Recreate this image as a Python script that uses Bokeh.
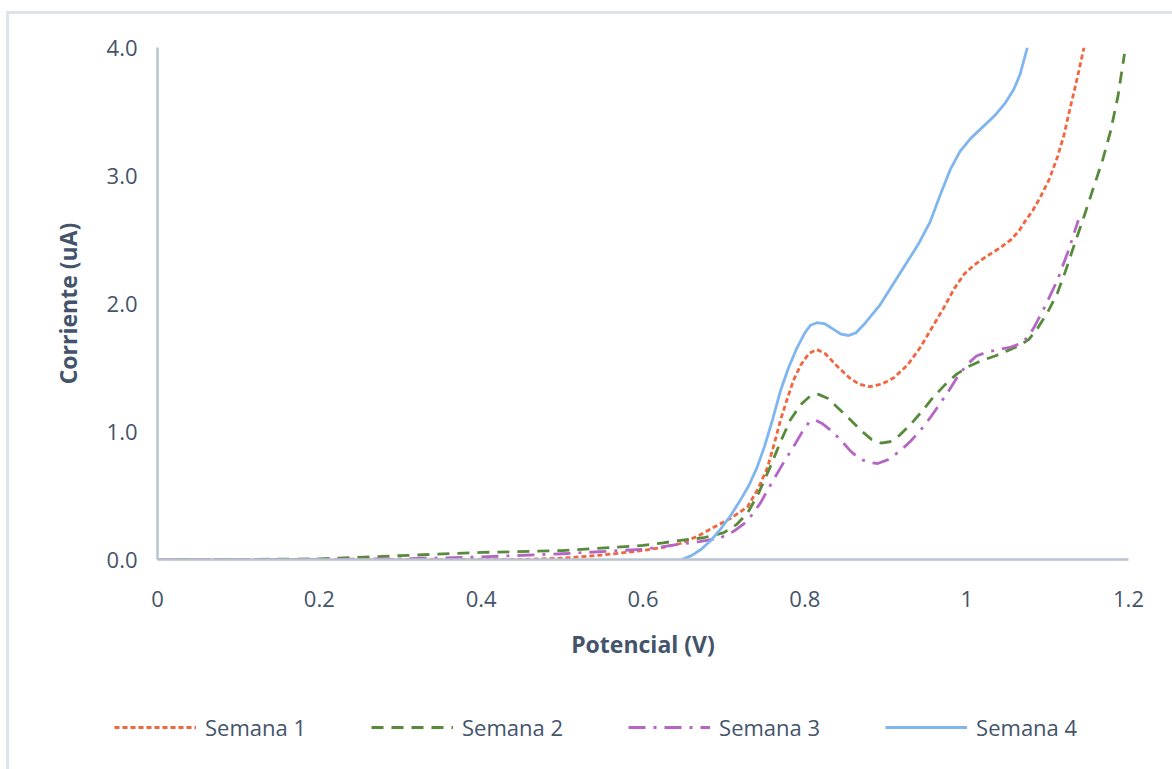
from bokeh.plotting import figure
from bokeh.models import Range1d, FixedTicker, Legend, LegendItem
from bokeh.embed import file_html
from bokeh.resources import INLINE

# Potential (V) and current (uA) for each weekly voltammogram
v_sem1 = [0, 0.1, 0.2, 0.3, 0.4, 0.45, 0.5, 0.55, 0.6, 0.625, 0.646, 0.667, 0.687, 0.708,
          0.729, 0.742, 0.754, 0.762, 0.77, 0.778, 0.786, 0.795, 0.805, 0.815, 0.825,
          0.84, 0.855, 0.867, 0.88, 0.895, 0.91, 0.927, 0.943, 0.958, 0.972, 0.985,
          0.997, 1.009, 1.025, 1.04, 1.055, 1.065, 1.072, 1.082, 1.091, 1.102, 1.112,
          1.12, 1.128, 1.137, 1.145]
i_sem1 = [0, 0, 0, 0, 0, 0, 0.01, 0.035, 0.07, 0.095, 0.125, 0.18, 0.25, 0.32,
          0.41, 0.55, 0.72, 0.90, 1.09, 1.25, 1.40, 1.52, 1.61, 1.64, 1.61,
          1.51, 1.42, 1.37, 1.35, 1.37, 1.42, 1.52, 1.66, 1.82, 1.97, 2.12,
          2.23, 2.30, 2.37, 2.43, 2.50, 2.57, 2.64, 2.73, 2.83, 2.97, 3.14,
          3.31, 3.53, 3.77, 4.0]

v_sem2 = [0, 0.1, 0.2, 0.3, 0.4, 0.5, 0.6, 0.625, 0.646, 0.675, 0.70, 0.715, 0.729,
          0.743, 0.757, 0.77, 0.782, 0.795, 0.807, 0.817, 0.828, 0.84, 0.855, 0.869,
          0.882, 0.894, 0.905, 0.917, 0.93, 0.945, 0.959, 0.974, 0.988, 1.003, 1.017,
          1.035, 1.05, 1.065, 1.077, 1.088, 1.1, 1.112, 1.122, 1.132, 1.145, 1.157,
          1.168, 1.178, 1.187, 1.195]
i_sem2 = [0, 0, 0.005, 0.03, 0.055, 0.07, 0.11, 0.13, 0.15, 0.17, 0.21, 0.27, 0.36,
          0.52, 0.72, 0.92, 1.09, 1.21, 1.28, 1.29, 1.26, 1.19, 1.10, 1.01,
          0.94, 0.91, 0.92, 0.97, 1.05, 1.16, 1.27, 1.37, 1.45, 1.51, 1.55,
          1.59, 1.63, 1.67, 1.72, 1.81, 1.93, 2.08, 2.25, 2.44, 2.68, 2.91,
          3.12, 3.35, 3.62, 3.95]

v_sem3 = [0, 0.15, 0.3, 0.4, 0.5, 0.6, 0.625, 0.646, 0.67, 0.696, 0.712, 0.729, 0.745,
          0.761, 0.774, 0.786, 0.797, 0.805, 0.813, 0.822, 0.832, 0.845, 0.856, 0.867,
          0.878, 0.89, 0.903, 0.918, 0.93, 0.943, 0.954, 0.964, 0.976, 0.988, 1.0,
          1.012, 1.025, 1.04, 1.055, 1.068, 1.076, 1.083, 1.097, 1.112, 1.125, 1.138]
i_sem3 = [0, 0, 0.005, 0.02, 0.045, 0.08, 0.10, 0.12, 0.14, 0.17, 0.22, 0.30, 0.44,
          0.62, 0.76, 0.88, 1.00, 1.07, 1.09, 1.06, 1.01, 0.93, 0.85, 0.79,
          0.76, 0.75, 0.78, 0.85, 0.92, 1.01, 1.10, 1.19, 1.30, 1.42, 1.52,
          1.59, 1.62, 1.64, 1.66, 1.69, 1.74, 1.81, 1.98, 2.18, 2.40, 2.65]

v_sem4 = [0.648, 0.66, 0.672, 0.684, 0.696, 0.708, 0.72, 0.731, 0.741, 0.75, 0.76,
          0.77, 0.78, 0.79, 0.80, 0.807, 0.815, 0.825, 0.835, 0.845, 0.854, 0.863,
          0.875, 0.893, 0.91, 0.925, 0.94, 0.955, 0.968, 0.98, 0.992, 1.005, 1.02,
          1.035, 1.048, 1.058, 1.066, 1.075]
i_sem4 = [0, 0.03, 0.08, 0.15, 0.24, 0.34, 0.46, 0.58, 0.72, 0.88, 1.09,
          1.32, 1.50, 1.65, 1.77, 1.83, 1.85, 1.84, 1.80, 1.76, 1.75, 1.77,
          1.85, 1.99, 2.16, 2.31, 2.46, 2.64, 2.86, 3.05, 3.19, 3.29, 3.38,
          3.47, 3.57, 3.67, 3.79, 4.0]

series_names = ["Semana 1", "Semana 2", "Semana 3", "Semana 4"]
x_ticks = [0, 0.2, 0.4, 0.6, 0.8, 1.0, 1.2]
x_tick_labels = ["0", "0.2", "0.4", "0.6", "0.8", "1", "1.2"]
y_ticks = [0, 1, 2, 3, 4]
y_tick_labels = ["0.0", "1.0", "2.0", "3.0", "4.0"]

TEXT = "#44546a"
AXIS = "#b9c3d1"
EDGE = "3px solid #dfe4eb"
FONT = "Open Sans"
styles = [
    dict(line_color="#f2653f", line_width=2.8, line_dash="5 3"),
    dict(line_color="#578a3a", line_width=2.8, line_dash="12 8"),
    dict(line_color="#b466c2", line_width=2.8, line_dash="17 8 3 8"),
    dict(line_color="#80b6ef", line_width=2.8, line_dash="solid"),
]
curves = [(v_sem1, i_sem1), (v_sem2, i_sem2), (v_sem3, i_sem3), (v_sem4, i_sem4)]

p = figure(
    frame_width=971, frame_height=512,
    min_border_left=148, min_border_top=33, min_border_right=44, min_border_bottom=130,
    x_range=Range1d(0, 1.2), y_range=Range1d(0, 4),
    output_backend="svg", toolbar_location=None,
)
p.margin = (11, 0, 0, 6)
p.styles = {"border-top": EDGE, "border-left": EDGE}
p.outline_line_color = None
p.background_fill_color = "white"
p.border_fill_color = "white"
p.xgrid.grid_line_color = None
p.ygrid.grid_line_color = None

p.xaxis.ticker = FixedTicker(ticks=x_ticks)
p.xaxis.major_label_overrides = dict(zip(x_ticks, x_tick_labels))
p.yaxis.ticker = FixedTicker(ticks=y_ticks)
p.yaxis.major_label_overrides = dict(zip(y_ticks, y_tick_labels))

for ax in (p.xaxis, p.yaxis):
    ax.axis_line_color = AXIS
    ax.axis_line_width = 2.5
    ax.major_tick_line_color = None
    ax.minor_tick_line_color = None
    ax.major_label_text_font = FONT
    ax.major_label_text_font_size = "22px"
    ax.major_label_text_color = TEXT
    ax.axis_label_text_font = FONT
    ax.axis_label_text_font_size = "23px"
    ax.axis_label_text_font_style = "bold"
    ax.axis_label_text_color = TEXT

p.xaxis.axis_label = "Potencial (V)"
p.yaxis.axis_label = "Corriente (uA)"
p.xaxis.major_label_standoff = 25
p.xaxis.axis_label_standoff = 18
p.yaxis.major_label_standoff = 14
p.yaxis.axis_label_standoff = 20

for (vx, iy), st in zip(curves, styles):
    r = p.line(vx, iy, **st)
    r.glyph.line_join = "round"

# strip under the chart holding the series key; its ranges keep the
# copies of the curves out of view so only the key samples show
key = figure(
    width=1163, height=80, min_border=0,
    x_range=Range1d(0, 1), y_range=Range1d(100, 101),
    x_axis_type=None, y_axis_type=None,
    output_backend="svg", toolbar_location=None,
)
key.margin = (0, 0, 0, 6)
key.styles = {"border-left": EDGE}
key.outline_line_color = None
key.xgrid.grid_line_color = None
key.ygrid.grid_line_color = None
key_renderers = [key.line(vx, iy, **st) for (vx, iy), st in zip(curves, styles)]

legend = Legend(
    items=[LegendItem(label=n, renderers=[r]) for n, r in zip(series_names, key_renderers)],
    orientation="horizontal",
    location=(105, 27),
    glyph_width=82, glyph_height=20,
    label_standoff=9, spacing=65,
    padding=0, margin=0,
    border_line_color=None, background_fill_alpha=0,
    label_text_font=FONT, label_text_font_size="22px", label_text_color=TEXT,
)
key.add_layout(legend, "center")

open("out.html", "w").write(file_html([p, key], INLINE))
